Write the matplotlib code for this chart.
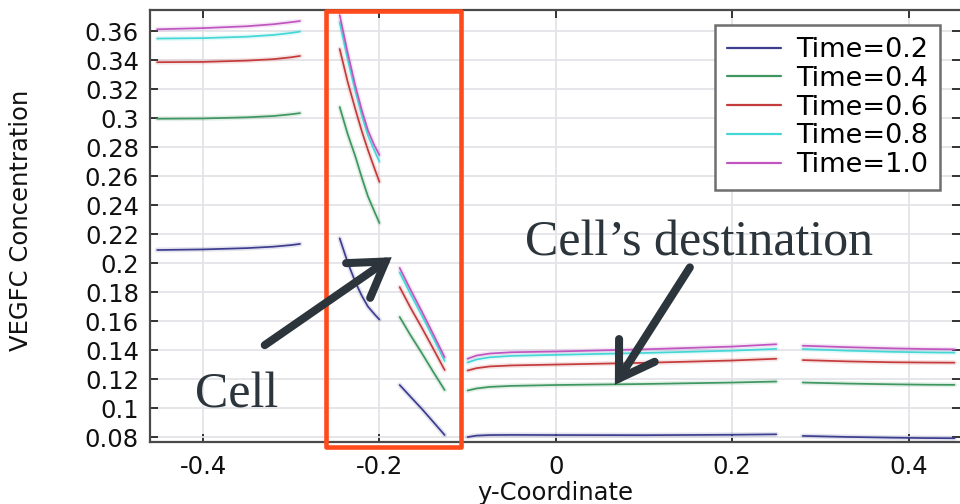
import matplotlib
matplotlib.use("Agg")
import matplotlib.pyplot as plt
from matplotlib.patches import Rectangle

# ---- data -------------------------------------------------------------
times = ["0.2", "0.4", "0.6", "0.8", "1.0"]
colors = ["#3d3d8f", "#3f9660", "#c43b3b", "#45d6d6", "#c055c0"]

# y-coordinate samples of each solid region
x_left = [-0.452, -0.40, -0.35, -0.32, -0.30, -0.29]
x_mid_a = [-0.245, -0.236, -0.227, -0.220, -0.213, -0.206, -0.200]
x_mid_b = [-0.177, -0.165, -0.152, -0.139, -0.126]
x_right_a = [-0.100, -0.090, -0.075, -0.050, 0.0, 0.10, 0.20, 0.25]
x_right_b = [0.28, 0.33, 0.38, 0.42, 0.452]

# VEGFC concentration, one row per time
left_vals = [
    [0.2090, 0.2094, 0.2103, 0.2113, 0.2124, 0.2132],
    [0.2995, 0.2997, 0.3005, 0.3014, 0.3026, 0.3034],
    [0.3385, 0.3387, 0.3396, 0.3406, 0.3419, 0.3428],
    [0.3548, 0.3551, 0.3561, 0.3573, 0.3587, 0.3596],
    [0.3612, 0.3620, 0.3633, 0.3647, 0.3661, 0.3669],
]
mid_a_vals = [
    [0.2170, 0.2005, 0.1865, 0.1775, 0.1700, 0.1650, 0.1610],
    [0.3076, 0.2890, 0.2730, 0.2590, 0.2460, 0.2360, 0.2276],
    [0.3476, 0.3250, 0.3055, 0.2910, 0.2780, 0.2660, 0.2560],
    [0.3660, 0.3405, 0.3180, 0.3020, 0.2880, 0.2780, 0.2700],
    [0.3710, 0.3450, 0.3215, 0.3055, 0.2915, 0.2815, 0.2745],
]
mid_b_vals = [
    [0.1159, 0.1080, 0.0995, 0.0905, 0.0814],
    [0.1628, 0.1505, 0.1380, 0.1250, 0.1124],
    [0.1834, 0.1695, 0.1555, 0.1410, 0.1262],
    [0.1935, 0.1790, 0.1640, 0.1485, 0.1325],
    [0.1966, 0.1820, 0.1668, 0.1510, 0.1350],
]
right_a_vals = [
    [0.0800, 0.0810, 0.0814, 0.0815, 0.0814, 0.0813, 0.0816, 0.0819],
    [0.1121, 0.1135, 0.1146, 0.1153, 0.1159, 0.1166, 0.1176, 0.1183],
    [0.1259, 0.1275, 0.1287, 0.1294, 0.1300, 0.1312, 0.1328, 0.1340],
    [0.1314, 0.1335, 0.1350, 0.1360, 0.1367, 0.1380, 0.1396, 0.1408],
    [0.1340, 0.1362, 0.1376, 0.1385, 0.1390, 0.1405, 0.1424, 0.1440],
]
right_b_vals = [
    [0.0808, 0.0801, 0.0796, 0.0793, 0.0792],
    [0.1176, 0.1169, 0.1164, 0.1161, 0.1160],
    [0.1331, 0.1322, 0.1316, 0.1314, 0.1313],
    [0.1407, 0.1396, 0.1388, 0.1384, 0.1382],
    [0.1430, 0.1420, 0.1412, 0.1407, 0.1405],
]

x_ticks = [-0.4, -0.2, 0.0, 0.2, 0.4]
x_ticklabels = ["-0.4", "-0.2", "0", "0.2", "0.4"]
y_ticks = [0.08, 0.10, 0.12, 0.14, 0.16, 0.18, 0.20, 0.22, 0.24, 0.26,
           0.28, 0.30, 0.32, 0.34, 0.36]
y_ticklabels = ["0.08", "0.1", "0.12", "0.14", "0.16", "0.18", "0.2", "0.22",
                "0.24", "0.26", "0.28", "0.3", "0.32", "0.34", "0.36"]

# ---- figure -------------------------------------------------------------
plt.rcParams["font.family"] = ["DejaVu Sans"]
fig = plt.figure(figsize=(9.6, 5.04), dpi=100)
fig.patch.set_facecolor("white")
ax = fig.add_axes([150 / 960, 62 / 504, 810 / 960, 432 / 504])

segments = [(x_left, left_vals), (x_mid_a, mid_a_vals), (x_mid_b, mid_b_vals),
            (x_right_a, right_a_vals), (x_right_b, right_b_vals)]

for i, (t, c) in enumerate(zip(times, colors)):
    for k, (xs, vals) in enumerate(segments):
        # soft halo under each curve
        ax.plot(xs, vals[i], color=c, lw=3.6, alpha=0.14, zorder=2,
                solid_capstyle="round")
        ax.plot(xs, vals[i], color=c, lw=1.25, zorder=3,
                solid_capstyle="round",
                label=f"Time={t}" if k == 0 else None)

ax.set_xlim(-0.4601, 0.4583)
ax.set_ylim(0.0766, 0.3745)
ax.set_xticks(x_ticks)
ax.set_xticklabels(x_ticklabels)
ax.set_yticks(y_ticks)
ax.set_yticklabels(y_ticklabels)

ax.grid(True, color="#e4e4e8", lw=1.3, zorder=0)
ax.set_axisbelow(True)
for side in ("left", "bottom", "top"):
    ax.spines[side].set_color("#4a4a4a")
    ax.spines[side].set_linewidth(1.6)
ax.spines["right"].set_visible(False)
ax.tick_params(axis="both", direction="in", length=6, width=1.4,
               color="#333333", labelsize=17.5, labelcolor="#111111",
               top=True, right=True)
ax.tick_params(axis="x", pad=9)
ax.tick_params(axis="y", pad=8)

ax.set_xlabel("y-Coordinate", fontsize=17.5, color="#111111", labelpad=2)
ax.set_ylabel("VEGFC Concentration", fontsize=17.5, color="#111111")
ax.yaxis.set_label_coords(-0.145, 0.514)

leg = ax.legend(loc="upper right", bbox_to_anchor=(940 / 960, 1 - 25 / 504),
                bbox_transform=fig.transFigure, borderaxespad=0,
                fontsize=19.5, handlelength=2.0, handletextpad=0.55,
                labelspacing=0.1, borderpad=0.45, fancybox=False,
                shadow=False, framealpha=1)
leg.get_frame().set_edgecolor("#6e6e6e")
leg.get_frame().set_linewidth(1.8)
for line in leg.get_lines():
    line.set_linewidth(1.6)

# ---- annotations --------------------------------------------------------
ink = "#2b353b"
box = Rectangle((-0.261, 0.0731), 0.1535, 0.301, fill=False,
                edgecolor="#ff4a1c", lw=3.3, clip_on=False, zorder=6,
                joinstyle="round")
ax.add_patch(box)

arrow_kw = dict(arrowstyle="->,head_length=0.6,head_width=0.38",
                color=ink, lw=5.8, shrinkA=0, shrinkB=0, mutation_scale=40,
                capstyle="round", joinstyle="miter")
ax.annotate("", xy=(-0.186, 0.2040), xytext=(-0.330, 0.1434),
            arrowprops=arrow_kw, zorder=7, annotation_clip=False)
ax.annotate("", xy=(0.067, 0.1160), xytext=(0.152, 0.1970),
            arrowprops=arrow_kw, zorder=7, annotation_clip=False)

ax.text(-0.409, 0.1007, "Cell", family="Liberation Serif", fontsize=36,
        color=ink, ha="left", va="baseline", zorder=8)
ax.text(-0.035, 0.2055, "Cell\u2019s destination", family="Liberation Serif",
        fontsize=36, color=ink, ha="left", va="baseline", zorder=8)

fig.savefig("out.png", dpi=100, facecolor="white")
